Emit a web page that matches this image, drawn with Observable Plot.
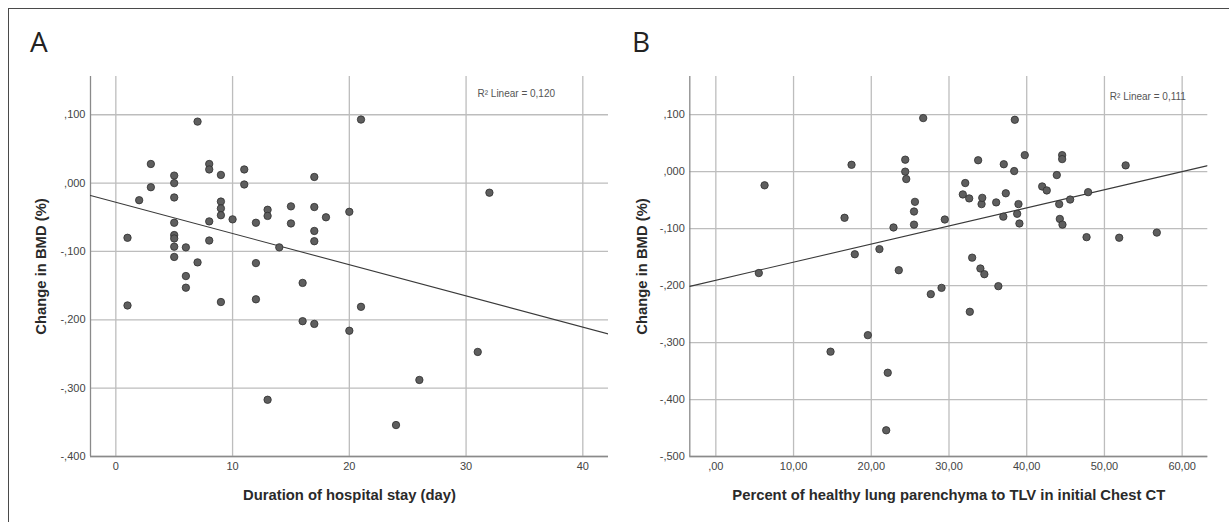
<!DOCTYPE html>
<html><head><meta charset="utf-8">
<script src="https://cdn.jsdelivr.net/npm/d3@7"></script>
<script src="https://cdn.jsdelivr.net/npm/@observablehq/plot@0.6"></script>
<style>
body{margin:0;background:#fff;}
#wrap{position:relative;width:1229px;height:522px;overflow:hidden;background:#fff;}
#frame{position:absolute;left:8px;top:8px;width:1240px;height:540px;border-top:1.5px solid #4a4a4a;border-left:1.5px solid #4a4a4a;}
.letter{position:absolute;font-family:"Open Sans",sans-serif;font-weight:400;font-size:28px;line-height:1;color:#222;}
.panel{position:absolute;top:0;}
</style></head><body>
<div id="wrap"><div id="frame"></div>
<div class="letter" style="left:30px;top:27px">A</div>
<div class="letter" style="left:632px;top:27px">B</div>
<div class="panel" id="pa" style="left:0px"></div>
<div class="panel" id="pb" style="left:614px"></div>
</div>
<script>
// ---- Panel A data ----
const durationA = [1,1,2,3,3,5,5,5,5,5,5,5,5,6,6,6,7,7,8,8,8,8,9,9,9,9,9,10,11,11,12,12,12,13,13,13,14,15,15,16,16,17,17,17,17,17,18,20,20,21,21,24,26,31,32];
const bmdA = [-0.080,-0.179,-0.025,0.028,-0.006,0.011,0.000,-0.021,-0.058,-0.076,-0.081,-0.093,-0.108,-0.094,-0.136,-0.153,0.090,-0.116,0.028,0.020,-0.056,-0.084,0.012,-0.027,-0.037,-0.047,-0.174,-0.053,0.020,-0.002,-0.058,-0.117,-0.170,-0.039,-0.048,-0.317,-0.094,-0.034,-0.059,-0.146,-0.202,0.009,-0.035,-0.070,-0.085,-0.206,-0.050,-0.042,-0.216,0.093,-0.181,-0.354,-0.288,-0.247,-0.014];
const xTicksA = [0,10,20,30,40];
const xTickLabelsA = ["0","10","20","30","40"];
const yTicksA = [0.1,0,-0.1,-0.2,-0.3,-0.4];
const yTickLabelsA = [",100",",000","-,100","-,200","-,300","-,400"];
const xDomainA = [-2.17, 42.2];
const yDomainA = [-0.4, 0.156];
const xTitleA = "Duration of hospital stay (day)";
const yTitleA = "Change in BMD (%)";
const r2A = "R² Linear = 0,120";

// ---- Panel B data ----
const healthyB = [5.53,6.27,14.76,16.56,17.46,17.88,19.56,21.05,21.92,22.12,22.86,23.54,24.37,24.37,24.50,25.62,25.50,25.50,26.68,27.66,29.04,29.46,31.78,32.09,32.60,32.68,32.98,33.75,34.04,34.19,34.28,34.55,36.07,36.35,36.99,37.05,37.31,38.39,38.47,38.77,38.94,39.06,39.75,41.99,42.58,43.87,44.18,44.26,44.56,44.56,44.60,45.59,47.70,47.90,51.90,52.73,56.74];
const bmdB = [-0.178,-0.024,-0.316,-0.081,0.012,-0.145,-0.287,-0.136,-0.454,-0.353,-0.098,-0.173,0.021,0.000,-0.013,-0.053,-0.070,-0.093,0.094,-0.215,-0.204,-0.084,-0.040,-0.020,-0.047,-0.246,-0.151,0.020,-0.170,-0.057,-0.046,-0.180,-0.054,-0.201,-0.079,0.013,-0.038,0.001,0.091,-0.074,-0.057,-0.091,0.029,-0.026,-0.033,-0.006,-0.057,-0.083,0.029,0.022,-0.093,-0.049,-0.115,-0.036,-0.116,0.011,-0.107];
const xTicksB = [0,10,20,30,40,50,60];
const xTickLabelsB = [",00","10,00","20,00","30,00","40,00","50,00","60,00"];
const yTicksB = [0.1,0,-0.1,-0.2,-0.3,-0.4,-0.5];
const yTickLabelsB = [",100",",000","-,100","-,200","-,300","-,400","-,500"];
const xDomainB = [-3.35, 63.3];
const yDomainB = [-0.5, 0.167];
const xTitleB = "Percent of healthy lung parenchyma to TLV in initial Chest CT";
const yTitleB = "Change in BMD (%)";
const r2B = "R² Linear = 0,111";

function ols(xs, ys) {
  const mx = d3.mean(xs), my = d3.mean(ys);
  let sxy = 0, sxx = 0;
  xs.forEach((x, i) => { sxy += (x - mx) * (ys[i] - my); sxx += (x - mx) ** 2; });
  const b = sxy / sxx;
  return {a: my - b * mx, b};
}

function panel(o) {
  const pts = o.xs.map((x, i) => ({x, y: o.ys[i]}));
  const fit = ols(o.xs, o.ys);
  const fitLine = o.xDomain.map(x => ({x, y: fit.a + fit.b * x}));
  const xm = new Map(o.xTicks.map((t, i) => [t, o.xLabels[i]]));
  const ym = new Map(o.yTicks.map((t, i) => [t, o.yLabels[i]]));
  return Plot.plot({
    width: o.width, height: 522,
    marginLeft: o.ml, marginRight: o.mr, marginTop: 76, marginBottom: 66,
    style: {fontFamily: "'Liberation Sans', Arial, sans-serif", fontSize: "11px", color: "#444", background: "transparent"},
    x: {domain: o.xDomain, ticks: o.xTicks, tickFormat: d => xm.get(d), tickSize: 0, tickPadding: 6, label: null},
    y: {domain: o.yDomain, ticks: o.yTicks, tickFormat: d => ym.get(d), tickSize: 0, tickPadding: 5, label: null},
    marks: [
      Plot.gridX(o.xTicks, {stroke: "#bdbdbd", strokeOpacity: 1, strokeWidth: 1.3}),
      Plot.gridY(o.yTicks, {stroke: "#bdbdbd", strokeOpacity: 1, strokeWidth: 1.3}),
      Plot.ruleX([o.xDomain[0]], {stroke: "#8a8a8a", strokeWidth: 1.3}),
      Plot.ruleY([o.yDomain[0]], {stroke: "#8a8a8a", strokeWidth: 1.3}),
      Plot.line(fitLine, {x: "x", y: "y", stroke: "#3a3a3a", strokeWidth: 1.1, clip: true}),
      Plot.dot(pts, {x: "x", y: "y", r: 3.7, fill: "#5e5e5e", stroke: "#2e2e2e", strokeWidth: 0.8}),
      Plot.text([o.xTitle], {frameAnchor: "bottom", dy: 39, lineAnchor: "middle", textAnchor: "middle", fontWeight: "bold", fontSize: 14.8, fill: "#2a2a2a"}),
      Plot.text([o.yTitle], {frameAnchor: "left", dx: o.ytdx, rotate: -90, textAnchor: "middle", lineAnchor: "middle", fontWeight: "bold", fontSize: 14.8, fill: "#2a2a2a"}),
      Plot.text([o.r2], {frameAnchor: "top-left", textAnchor: "start", lineAnchor: "middle", dx: o.r2dx, dy: o.r2dy, fontSize: 10, fill: "#555"})
    ]
  });
}

document.getElementById("pa").appendChild(panel({
  xs: durationA, ys: bmdA, xDomain: xDomainA, yDomain: yDomainA,
  xTicks: xTicksA, xLabels: xTickLabelsA, yTicks: yTicksA, yLabels: yTickLabelsA,
  xTitle: xTitleA, yTitle: yTitleA, r2: r2A,
  width: 614, ml: 90, mr: 6, ytdx: -49, r2dx: 387, r2dy: 17
}));
document.getElementById("pb").appendChild(panel({
  xs: healthyB, ys: bmdB, xDomain: xDomainB, yDomain: yDomainB,
  xTicks: xTicksB, xLabels: xTickLabelsB, yTicks: yTicksB, yLabels: yTickLabelsB,
  xTitle: xTitleB, yTitle: yTitleB, r2: r2B,
  width: 615, ml: 75.3, mr: 21.7, ytdx: -48, r2dx: 420, r2dy: 20.7
}));
</script>
</body></html>
